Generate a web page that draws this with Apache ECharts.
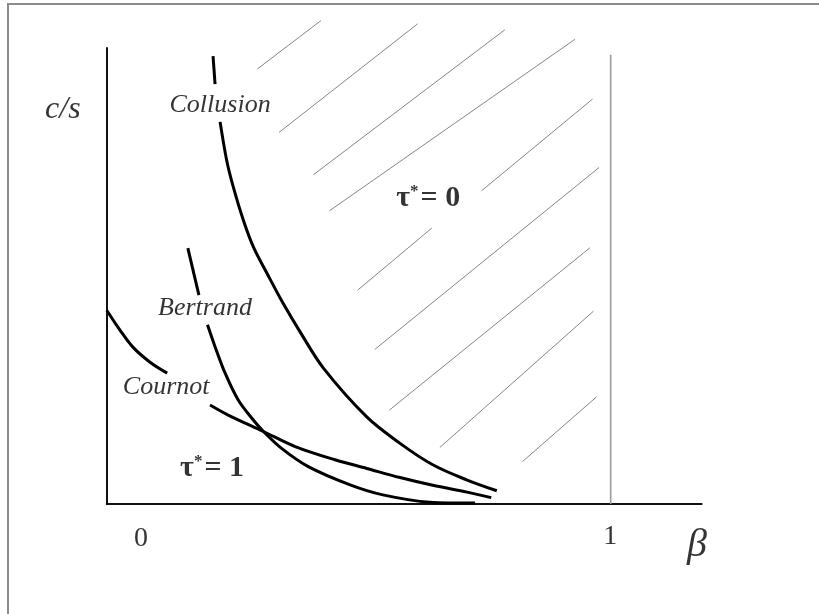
<!DOCTYPE html>
<html>
<head>
<meta charset="utf-8">
<script src="https://cdn.jsdelivr.net/npm/echarts@6/dist/echarts.min.js"></script>
<style>
html,body{margin:0;padding:0;background:#fff;}
#wrap{position:relative;width:819px;height:614px;overflow:hidden;}
#container{width:819px;height:614px;}
#frame{position:absolute;left:7px;top:3px;right:-4px;bottom:-4px;border-left:2px solid #8c8c8c;border-top:2px solid #8c8c8c;pointer-events:none;}
</style>
</head>
<body>
<div id="wrap"><div id="container"></div><div id="frame"></div></div>
<script>
// curves: [beta, c/s]
var collusionTop = [[0.211, 0.982], [0.215, 0.921]];
var collusion = [[0.225, 0.838], [0.238, 0.754], [0.251, 0.696], [0.271, 0.623], [0.291, 0.564], [0.318, 0.506],
    [0.350, 0.440], [0.384, 0.377], [0.430, 0.298], [0.516, 0.191], [0.582, 0.133], [0.647, 0.086],
    [0.714, 0.053], [0.774, 0.029]];
var bertrandTop = [[0.161, 0.561], [0.183, 0.458]];
var bertrand = [[0.200, 0.393], [0.215, 0.345], [0.235, 0.287], [0.261, 0.228], [0.288, 0.188], [0.311, 0.159],
    [0.347, 0.122], [0.400, 0.082], [0.483, 0.042], [0.548, 0.020], [0.641, 0.004], [0.731, 0.002]];
var cournotTop = [[0.000, 0.425], [0.026, 0.382], [0.052, 0.344], [0.086, 0.311], [0.120, 0.287]];
var cournot = [[0.205, 0.217], [0.241, 0.195], [0.311, 0.159], [0.374, 0.126], [0.453, 0.097], [0.516, 0.078],
    [0.582, 0.058], [0.647, 0.041], [0.715, 0.026], [0.763, 0.014]];
var betaOne = [[1, 0], [1, 0.985]];

// hatching of the tau*=0 region, one segment each
var hatch = [
    [[0.299, 0.954], [0.425, 1.060]],
    [[0.342, 0.815], [0.617, 1.053]],
    [[0.410, 0.722], [0.790, 1.040]],
    [[0.442, 0.643], [0.929, 1.019]],
    [[0.744, 0.687], [0.964, 0.888]],
    [[0.498, 0.469], [0.645, 0.605]],
    [[0.532, 0.339], [0.977, 0.738]],
    [[0.561, 0.206], [0.959, 0.562]],
    [[0.661, 0.124], [0.966, 0.423]],
    [[0.825, 0.093], [0.972, 0.235]]
];

// text labels and where they sit
var noteText = ['c/s', 'Collusion', 'Bertrand', 'Cournot', 'tau0', 'tau1', '0', '1', 'β'];
var noteBeta = [-0.087, 0.225, 0.195, 0.118, 0.638, 0.209, 0.068, 0.999, 1.171];
var noteCs = [0.864, 0.875, 0.430, 0.257, 0.671, 0.079, -0.077, -0.072, -0.090];

var echarts = window.echarts;
var myChart = echarts.init(document.getElementById('container'));

var serif = '"Liberation Serif", "DejaVu Serif", serif';

function curve(name, data) {
    return {
        name: name,
        type: 'line',
        data: data,
        smooth: 0.33,
        symbol: 'none',
        clip: false,
        silent: true,
        lineStyle: {color: '#000', width: 3}
    };
}

var notes = noteText.map(function (t, i) {
    return {name: t, value: [noteBeta[i], noteCs[i]]};
});

var option = {
    animation: false,
    backgroundColor: '#fff',
    grid: {left: 106.7, right: 117.3, top: 48, bottom: 110},
    xAxis: {
        type: 'value',
        min: 0,
        max: 1.1806,
        axisLine: {show: true, onZero: false, lineStyle: {color: '#111', width: 2}},
        axisTick: {show: false},
        axisLabel: {show: false},
        splitLine: {show: false}
    },
    yAxis: {
        type: 'value',
        min: 0,
        max: 1,
        axisLine: {show: true, onZero: false, lineStyle: {color: '#111', width: 2}},
        axisTick: {show: false},
        axisLabel: {show: false},
        splitLine: {show: false}
    },
    series: [
        {
            name: 'hatch',
            type: 'lines',
            coordinateSystem: 'cartesian2d',
            clip: false,
            silent: true,
            data: hatch.map(function (h) { return {coords: h}; }),
            lineStyle: {color: '#777', width: 0.9, opacity: 1}
        },
        {
            name: 'beta = 1',
            type: 'line',
            data: betaOne,
            symbol: 'none',
            silent: true,
            lineStyle: {color: '#9a9a9a', width: 1.6}
        },
        curve('Collusion top', collusionTop),
        curve('Collusion', collusion),
        curve('Bertrand top', bertrandTop),
        curve('Bertrand', bertrand),
        curve('Cournot top', cournotTop),
        curve('Cournot', cournot),
        {
            name: 'notes',
            type: 'scatter',
            data: notes,
            symbolSize: 0,
            clip: false,
            silent: true,
            label: {
                show: true,
                position: 'inside',
                color: '#000',
                fontFamily: serif,
                formatter: function (p) {
                    var n = p.name;
                    if (n === 'tau0') return '{t|τ}{s|*}{t|= 0}';
                    if (n === 'tau1') return '{t|τ}{s|*}{t|= 1}';
                    if (n === 'c/s') return '{cs|c/s}';
                    if (n === 'β') return '{b|β}';
                    if (n === '0' || n === '1') return '{n|' + n + '}';
                    return '{i|' + n + '}';
                },
                rich: {
                    t: {fontFamily: serif, fontWeight: 'bold', fontSize: 30, color: '#000'},
                    s: {fontFamily: serif, fontWeight: 'bold', fontSize: 17, color: '#000', padding: [0, 2, 13, 0]},
                    cs: {fontFamily: serif, fontStyle: 'italic', fontSize: 32, color: '#000'},
                    b: {fontFamily: serif, fontStyle: 'italic', fontSize: 40, color: '#000'},
                    n: {fontFamily: serif, fontSize: 28, color: '#000'},
                    i: {fontFamily: serif, fontStyle: 'italic', fontSize: 26, color: '#000'}
                }
            }
        }
    ]
};
myChart.setOption(option);
</script>
</body>
</html>
